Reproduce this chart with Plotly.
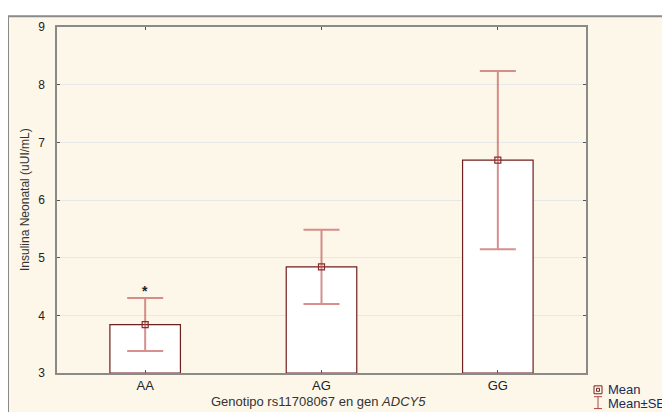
import plotly.graph_objects as go

categories = ["AA", "AG", "GG"]
means = [3.84, 4.84, 6.69]
se = [0.46, 0.645, 1.545]
sig_marks = ["*", "", ""]
y_ticks = [3, 4, 5, 6, 7, 8, 9]

# The page body adds an 8px margin; work in window pixels and shift by OFF.
OFF = 8
W, H = 670 - OFF, 412 - OFF
L, R, T, B = 57 - OFF, 586 - OFF, 23 - OFF, 373 - OFF
def px(x):
    return (x - OFF - L) / (R - L)
def py(y):
    return (B - (y - OFF)) / (B - T)

bar_line = "#6e1f1f"
err_col = "rgba(185,70,70,0.6)"
font_fam = "Liberation Sans, Arial, sans-serif"

fig = go.Figure()
fig.add_trace(go.Bar(
    x=categories, y=[m - 3 for m in means], base=3, width=0.4,
    marker=dict(color="white", line=dict(color=bar_line, width=1.2)),
    showlegend=False, hoverinfo="skip"))
fig.add_trace(go.Scatter(
    x=categories, y=means, mode="markers",
    marker=dict(symbol="square-open", size=6, color="#8b2a2a", line=dict(width=1.2)),
    error_y=dict(type="data", array=se, visible=True, color=err_col, thickness=2, width=18),
    showlegend=False))
for c, m, s, t in zip(categories, means, se, sig_marks):
    if t:
        fig.add_annotation(x=c, y=m + s + 0.13, text="<b>" + t + "</b>", showarrow=False,
                           font=dict(size=14, color="#222", family=font_fam))

shapes = [
    dict(type="rect", xref="paper", yref="paper", layer="below",
         x0=px(8), x1=px(700), y0=py(440), y1=py(12),
         fillcolor="#fdf7e9", line=dict(color="#8a8a8a", width=2)),
    # legend symbols
    dict(type="rect", xref="paper", yref="paper",
         x0=px(594), x1=px(602), y0=py(394), y1=py(386),
         line=dict(color="#7a2020", width=1), fillcolor="rgba(0,0,0,0)"),
    dict(type="rect", xref="paper", yref="paper",
         x0=px(596.5), x1=px(599.5), y0=py(391.5), y1=py(388.5),
         line=dict(color="#7a2020", width=1), fillcolor="rgba(0,0,0,0)"),
    dict(type="line", xref="paper", yref="paper",
         x0=px(598), x1=px(598), y0=py(397), y1=py(409), line=dict(color="#b04545", width=1)),
    dict(type="line", xref="paper", yref="paper",
         x0=px(594), x1=px(602), y0=py(397), y1=py(397), line=dict(color="#b04545", width=1)),
    dict(type="line", xref="paper", yref="paper",
         x0=px(594), x1=px(602), y0=py(409), y1=py(409), line=dict(color="#b04545", width=1)),
]

annotations = [
    dict(xref="paper", yref="paper", x=px(606), y=py(390), text="Mean", showarrow=False,
         xanchor="left", yanchor="middle", font=dict(size=13, color="#1a2a5a", family=font_fam)),
    dict(xref="paper", yref="paper", x=px(606), y=py(404), text="Mean±SE", showarrow=False,
         xanchor="left", yanchor="middle", font=dict(size=13, color="#1a2a5a", family=font_fam)),
    dict(xref="paper", yref="paper", x=px(318), y=py(402), text="Genotipo rs11708067 en gen <i>ADCY5</i>",
         showarrow=False, xanchor="center", yanchor="middle",
         font=dict(size=13, color="#333", family=font_fam)),
    dict(xref="paper", yref="paper", x=px(25), y=py(198), text="Insulina Neonatal (uUI/mL)",
         showarrow=False, textangle=-90, xanchor="center", yanchor="middle",
         font=dict(size=12, color="#333", family=font_fam)),
]
for a in annotations:
    fig.add_annotation(**a)

fig.update_layout(
    width=W, height=H,
    margin=dict(l=L, r=W - R, t=T, b=H - B, pad=0),
    paper_bgcolor="white", plot_bgcolor="white",
    shapes=shapes, showlegend=False, bargap=0.6,
    font=dict(family=font_fam, size=11, color="#333"),
)
fig.update_xaxes(range=[-0.5, 2.5], showline=True, linecolor="#8a8a8a", linewidth=1.5,
                 mirror="ticks", ticks="inside", ticklen=3, tickcolor="#555",
                 showgrid=False, tickfont=dict(size=13, color="#222"))
fig.update_yaxes(range=[3, 9], tickvals=y_ticks, showline=True, linecolor="#8a8a8a", linewidth=1.5,
                 mirror="ticks", ticks="inside", ticklen=3, tickcolor="#555",
                 showgrid=True, gridcolor="#e8e8e8", zeroline=False,
                 ticklabelstandoff=8, tickfont=dict(size=12, color="#222"))

fig.write_html("out.html")
